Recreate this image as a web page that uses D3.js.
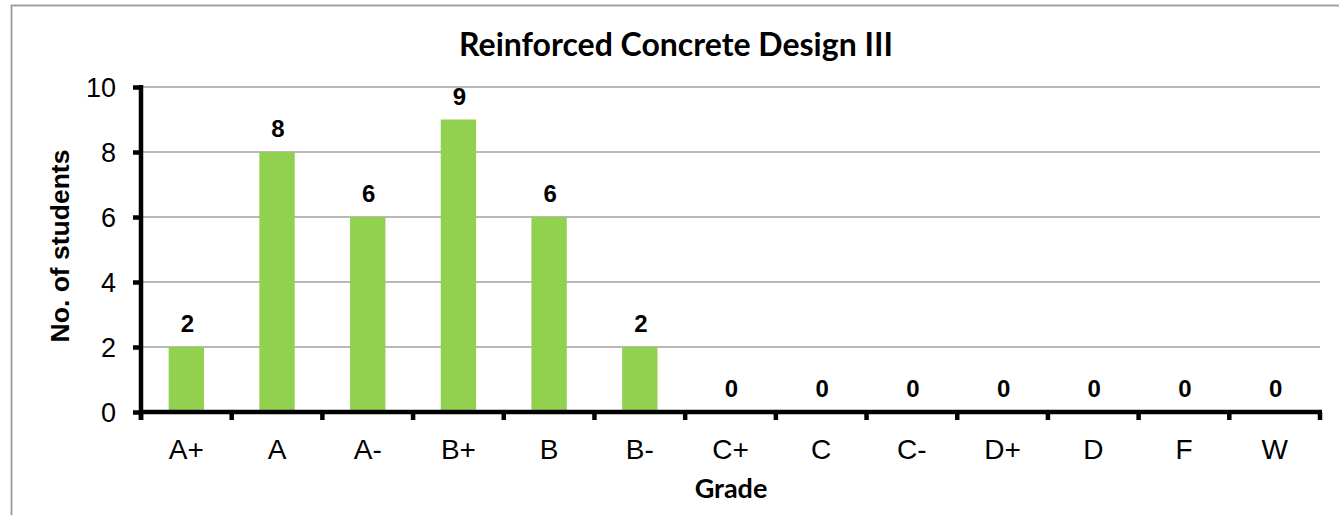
<!DOCTYPE html>
<html>
<head>
    <meta charset="utf-8">
    <script src="https://d3js.org/d3.v7.min.js"></script>
    <style>
        body { margin: 0; background: #fff; }
        .tick-label { font-family: Arial, 'Liberation Sans', sans-serif; font-size: 27px; fill: #000; }
        .value-label { font-family: Arial, 'Liberation Sans', sans-serif; font-size: 24px; font-weight: bold; fill: #000; }
        .title, .x-title { font-family: Lato, 'Open Sans', sans-serif; font-weight: bold; fill: #000; }
    </style>
</head>
<body>
<svg id="chart" width="1339" height="515"></svg>
<script>
    // grade distribution
    var grades = ["A+", "A", "A-", "B+", "B", "B-", "C+", "C", "C-", "D+", "D", "F", "W"];
    var students = [2, 8, 6, 9, 6, 2, 0, 0, 0, 0, 0, 0, 0];
    var yTicks = [0, 2, 4, 6, 8, 10];

    var svg = d3.select("#chart");

    var plotLeft = 141, plotRight = 1320, plotTop = 87, plotBottom = 412;

    // outer chart border (runs off the picture on the right and bottom)
    svg.append("rect")
        .attr("x", 11.5).attr("y", 5.5)
        .attr("width", 1400).attr("height", 600)
        .attr("fill", "none")
        .attr("stroke", "#9a9a9a")
        .attr("stroke-width", 1.8);

    var x = d3.scaleBand()
        .domain(grades)
        .range([plotLeft, plotRight])
        .padding(0);

    var y = d3.scaleLinear()
        .domain([0, 10])
        .range([plotBottom, plotTop]);

    // gridlines
    svg.append("g")
        .selectAll("line")
        .data(yTicks.filter(d => d > 0))
        .enter()
        .append("line")
        .attr("x1", plotLeft).attr("x2", plotRight)
        .attr("y1", d => y(d)).attr("y2", d => y(d))
        .attr("stroke", "#a0a0a0")
        .attr("stroke-width", 1.5);

    // bars
    var barW = x.bandwidth() * 0.39;
    svg.append("g")
        .selectAll("rect")
        .data(grades)
        .enter()
        .append("rect")
        .attr("x", (d) => x(d) + (x.bandwidth() - barW) / 2)
        .attr("width", barW)
        .attr("y", (d, i) => y(students[i]))
        .attr("height", (d, i) => y(0) - y(students[i]))
        .attr("fill", "#92d050");

    // value labels
    svg.append("g")
        .selectAll("text")
        .data(grades)
        .enter()
        .append("text")
        .attr("class", "value-label")
        .attr("x", d => x(d) + x.bandwidth() / 2 + 1)
        .attr("y", (d, i) => y(students[i]) - 15)
        .attr("text-anchor", "middle")
        .text((d, i) => students[i]);

    // y axis
    var yAxis = d3.axisLeft(y).tickValues(yTicks).tickSize(8).tickFormat("");
    var yg = svg.append("g").attr("transform", "translate(" + plotLeft + ",0)").call(yAxis);
    yg.select(".domain").remove();
    yg.selectAll(".tick line").attr("stroke", "#000").attr("stroke-width", 4.5);
    svg.append("line")
        .attr("x1", plotLeft).attr("x2", plotLeft)
        .attr("y1", plotTop - 2).attr("y2", plotBottom + 8)
        .attr("stroke", "#000").attr("stroke-width", 4.5);

    svg.append("g")
        .selectAll("text")
        .data(yTicks)
        .enter()
        .append("text")
        .attr("class", "tick-label")
        .attr("x", 116)
        .attr("y", d => y(d) + 10)
        .attr("text-anchor", "end")
        .text(d => d);

    // x axis: ticks sit between categories
    var bounds = grades.map(d => x(d)).concat([plotRight]);
    svg.append("line")
        .attr("x1", plotLeft - 2).attr("x2", plotRight + 2)
        .attr("y1", plotBottom).attr("y2", plotBottom)
        .attr("stroke", "#000").attr("stroke-width", 4.5);
    svg.append("g")
        .selectAll("line")
        .data(bounds)
        .enter()
        .append("line")
        .attr("x1", d => d).attr("x2", d => d)
        .attr("y1", plotBottom).attr("y2", plotBottom + 8)
        .attr("stroke", "#000").attr("stroke-width", 4.5);

    svg.append("g")
        .selectAll("text")
        .data(grades)
        .enter()
        .append("text")
        .attr("class", "tick-label")
        .attr("x", d => x(d) + x.bandwidth() / 2)
        .attr("y", 459)
        .attr("text-anchor", "middle")
        .style("font-size", "28px")
        .text(d => d);

    // titles
    svg.append("text")
        .attr("class", "title")
        .attr("x", 676).attr("y", 56)
        .attr("text-anchor", "middle")
        .style("font-size", "32px")
        .text("Reinforced Concrete Design III");

    svg.append("text")
        .attr("class", "x-title")
        .attr("x", 731).attr("y", 498)
        .attr("text-anchor", "middle")
        .style("font-size", "27px")
        .text("Grade");

    svg.append("text")
        .attr("class", "value-label")
        .attr("transform", "translate(69,246) rotate(-90)")
        .attr("text-anchor", "middle")
        .style("font-size", "26.5px")
        .text("No. of students");
</script>
</body>
</html>
